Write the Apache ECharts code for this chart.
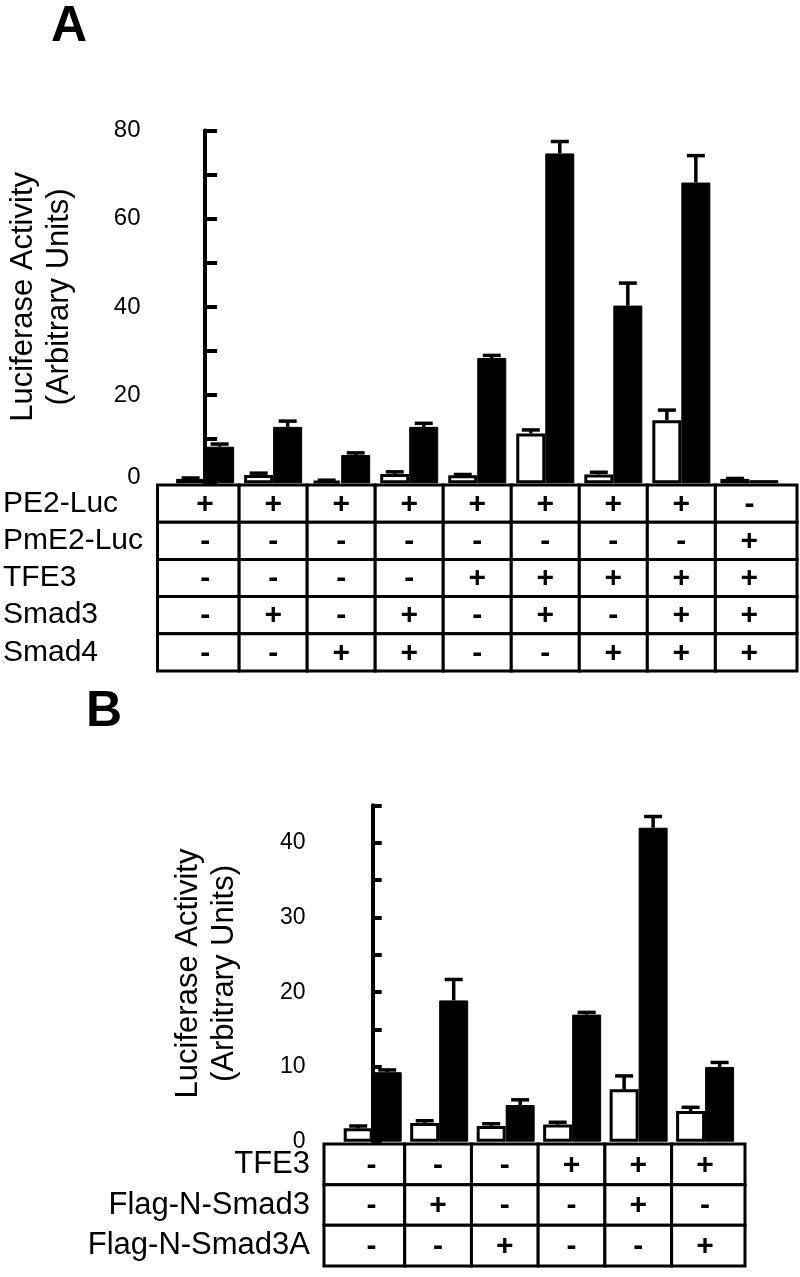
<!DOCTYPE html>
<html><head><meta charset="utf-8">
<script src="https://cdn.jsdelivr.net/npm/echarts@6/dist/echarts.min.js"></script>
<style>html,body{margin:0;padding:0;background:#fff}#c{width:800px;height:1277px}</style>
</head><body><div id="c"></div>
<script>
const FONT = "'Liberation Sans', Arial, Helvetica, sans-serif";

// ---------- Panel A data ----------
const openA = [1.0, 1.9, 0.6, 2.1, 1.8, 11.3, 2.0, 14.3, 1.0];
const openErrA = [0.2, 0.4, 0.1, 0.5, 0.2, 0.8, 0.5, 2.3, 0.1];
const filledA = [8.3, 12.8, 6.4, 12.8, 28.4, 74.8, 40.3, 68.2, 0.7];
const filledErrA = [0.6, 1.3, 0.5, 0.8, 0.6, 2.7, 5.1, 6.1, 0];
const yLabelsA = [0, 20, 40, 60, 80];
const rowsA = ['PE2-Luc', 'PmE2-Luc', 'TFE3', 'Smad3', 'Smad4'];
const tableA = [
  ['+', '+', '+', '+', '+', '+', '+', '+', '-'],
  ['-', '-', '-', '-', '-', '-', '-', '-', '+'],
  ['-', '-', '-', '-', '+', '+', '+', '+', '+'],
  ['-', '+', '-', '+', '-', '+', '-', '+', '+'],
  ['-', '-', '+', '+', '-', '-', '+', '+', '+']
];

// ---------- Panel B data ----------
const openB = [1.8, 2.5, 2.1, 2.3, 7.0, 4.1];
const openErrB = [0.3, 0.3, 0.3, 0.3, 1.8, 0.5];
const filledB = [9.3, 18.9, 4.9, 17.0, 42.0, 10.0];
const filledErrB = [0.3, 2.8, 0.7, 0.3, 1.5, 0.6];
const yLabelsB = [0, 10, 20, 30, 40];
const rowsB = ['TFE3', 'Flag-N-Smad3', 'Flag-N-Smad3A'];
const tableB = [
  ['-', '-', '-', '+', '+', '+'],
  ['-', '+', '-', '-', '+', '-'],
  ['-', '-', '+', '-', '-', '+']
];

const BAR_W = 29;

function pairs(vals) { return vals.map((v, i) => [i, v]); }
function triples(vals, errs) { return vals.map((v, i) => [i, v, errs[i]]); }
function cells(table) {
  const out = [];
  table.forEach((row, r) => row.forEach((s, c) => out.push([c, r, s])));
  return out;
}

function errRender(offset) {
  return function (params, api) {
    const x = api.value(0), v = api.value(1), e = api.value(2);
    if (!e) return null;
    const p0 = api.coord([x, v]);
    const p1 = api.coord([x, v + e]);
    const cx = p0[0] + offset;
    return {
      type: 'group',
      children: [
        { type: 'line', shape: { x1: cx, y1: p0[1], x2: cx, y2: p1[1] }, style: { stroke: '#000', lineWidth: 3.5 } },
        { type: 'line', shape: { x1: cx - 9, y1: p1[1], x2: cx + 9, y2: p1[1] }, style: { stroke: '#000', lineWidth: 3.5 } }
      ]
    };
  };
}

function cellRender(fontSize, ncols) {
  return function (params, api) {
    const col = api.value(0), row = api.value(1);
    const sym = api.value(2);
    const cs = params.coordSys;
    let x0 = col === 0 ? cs.x : api.coord([col - 0.5, row])[0];
    let x1 = col === ncols - 1 ? cs.x + cs.width : api.coord([col + 0.5, row])[0];
    const c = api.coord([col, row]);
    const bh = api.size([0, 1])[1];
    return {
      type: 'group',
      children: [
        { type: 'rect', shape: { x: x0, y: c[1] - bh / 2, width: x1 - x0, height: bh },
          style: { fill: '#fff', stroke: '#000', lineWidth: 3 } },
        { type: 'text', x: c[0], y: c[1] + 1,
          style: { text: sym, fill: '#000', font: 'bold ' + fontSize + 'px ' + FONT, align: 'center', verticalAlign: 'middle' } }
      ]
    };
  };
}

const valueAxisCommon = {
  type: 'value',
  splitLine: { show: false },
  axisLine: { show: true, lineStyle: { color: '#000', width: 4 } },
  axisTick: { show: true, inside: true, lineStyle: { color: '#000', width: 4 } }
};

const chart = echarts.init(document.getElementById('c'), null, { renderer: 'canvas', devicePixelRatio: 1 });
chart.setOption({
  animation: false,
  backgroundColor: '#fff',
  textStyle: { fontFamily: FONT, color: '#000' },
  title: [
    { text: 'A', left: 51, top: 2, padding: 0, textStyle: { fontSize: 50, fontWeight: 'bold', fontFamily: FONT, color: '#000' } },
    { text: 'B', left: 86, top: 687, padding: 0, textStyle: { fontSize: 50, fontWeight: 'bold', fontFamily: FONT, color: '#000' } }
  ],
  grid: [
    { left: 157.5, top: 130.5, width: 639.5, height: 352.8, outerBoundsMode: 'none' },
    { left: 157.5, top: 485, width: 639.5, height: 186, outerBoundsMode: 'none' },
    { left: 325.5, top: 805.3, width: 419.5, height: 336.4, outerBoundsMode: 'none' },
    { left: 324, top: 1144, width: 421, height: 122, outerBoundsMode: 'none' }
  ],
  xAxis: [
    { type: 'value', gridIndex: 0, min: -0.7, max: 8.7, show: false },
    { type: 'value', gridIndex: 1, min: -0.7, max: 8.7, show: false },
    { type: 'value', gridIndex: 2, min: -0.71, max: 5.6, show: false },
    { type: 'value', gridIndex: 3, min: -0.71, max: 5.6, show: false }
  ],
  yAxis: [
    Object.assign({}, valueAxisCommon, {
      gridIndex: 0, min: 0, max: 80, interval: 10,
      axisTick: { show: true, inside: true, length: 12, lineStyle: { color: '#000', width: 4 } },
      axisLabel: {
        margin: 17, fontSize: 24, color: '#000', fontFamily: FONT,
        formatter: v => yLabelsA.includes(v) ? (v === 0 ? '{z|0}' : String(v)) : '',
        rich: { z: { fontSize: 24, fontFamily: FONT, color: '#000', padding: [0, 0, 12, 0] } }
      },
      name: 'Luciferase Activity\n(Arbitrary Units)',
      nameLocation: 'middle', nameGap: 80,
      nameTextStyle: { fontSize: 31, lineHeight: 36, color: '#000', fontFamily: FONT, padding: [0, 0, 0, 20] }
    }),
    {
      type: 'category', gridIndex: 1, inverse: true, data: rowsA,
      axisLine: { show: false }, axisTick: { show: false },
      axisLabel: { interval: 0, align: 'left', margin: 154.5, fontSize: 30, color: '#000', fontFamily: FONT }
    },
    Object.assign({}, valueAxisCommon, {
      gridIndex: 2, min: 0, max: 45, interval: 5,
      axisTick: { show: true, inside: true, length: 9, lineStyle: { color: '#000', width: 4 } },
      axisLabel: {
        margin: 20, fontSize: 23, color: '#000', fontFamily: FONT,
        formatter: v => yLabelsB.includes(v) ? String(v) : ''
      },
      name: 'Luciferase Activity\n(Arbitrary Units)',
      nameLocation: 'middle', nameGap: 83,
      nameTextStyle: { fontSize: 31, lineHeight: 36, color: '#000', fontFamily: FONT }
    }),
    {
      type: 'category', gridIndex: 3, inverse: true, data: rowsB,
      axisLine: { show: false }, axisTick: { show: false },
      axisLabel: { interval: 0, align: 'right', margin: 14, fontSize: 31, color: '#000', fontFamily: FONT }
    }
  ],
  series: [
    { name: 'Open A', type: 'bar', xAxisIndex: 0, yAxisIndex: 0, data: pairs(openA), barWidth: BAR_W, barGap: '0%',
      itemStyle: { color: '#fff', borderColor: '#000', borderWidth: 3 } },
    { name: 'Filled A', type: 'bar', xAxisIndex: 0, yAxisIndex: 0, data: pairs(filledA), barWidth: BAR_W, barGap: '0%',
      itemStyle: { color: '#000', borderColor: '#000', borderWidth: 1 } },
    { name: 'Open A err', type: 'custom', xAxisIndex: 0, yAxisIndex: 0, data: triples(openA, openErrA), renderItem: errRender(-BAR_W / 2), z: 3 },
    { name: 'Filled A err', type: 'custom', xAxisIndex: 0, yAxisIndex: 0, data: triples(filledA, filledErrA), renderItem: errRender(BAR_W / 2), z: 3 },
    { name: 'Table A', type: 'custom', xAxisIndex: 1, yAxisIndex: 1, data: cells(tableA), renderItem: cellRender(30, tableA[0].length),
      encode: { x: 0, y: 1 } },

    { name: 'Open B', type: 'bar', xAxisIndex: 2, yAxisIndex: 2, data: pairs(openB), barWidth: BAR_W, barGap: '0%',
      itemStyle: { color: '#fff', borderColor: '#000', borderWidth: 3 } },
    { name: 'Filled B', type: 'bar', xAxisIndex: 2, yAxisIndex: 2, data: pairs(filledB), barWidth: BAR_W, barGap: '0%',
      itemStyle: { color: '#000', borderColor: '#000', borderWidth: 1 } },
    { name: 'Open B err', type: 'custom', xAxisIndex: 2, yAxisIndex: 2, data: triples(openB, openErrB), renderItem: errRender(-BAR_W / 2), z: 3 },
    { name: 'Filled B err', type: 'custom', xAxisIndex: 2, yAxisIndex: 2, data: triples(filledB, filledErrB), renderItem: errRender(BAR_W / 2), z: 3 },
    { name: 'Table B', type: 'custom', xAxisIndex: 3, yAxisIndex: 3, data: cells(tableB), renderItem: cellRender(30, tableB[0].length),
      encode: { x: 0, y: 1 } }
  ]
});
</script></body></html>
